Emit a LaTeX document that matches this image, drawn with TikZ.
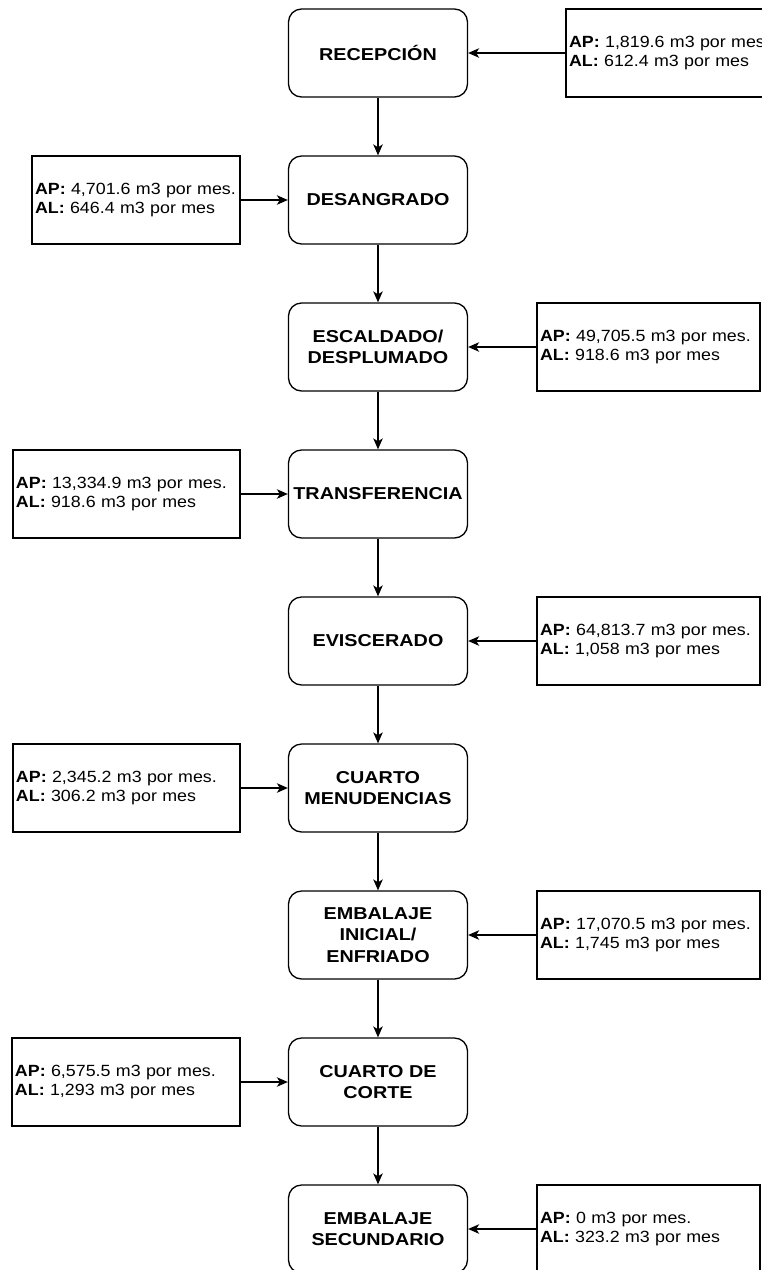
\documentclass[tikz,border=0pt]{standalone}
\usepackage{fontspec}
\setmainfont{Liberation Sans}[FakeStretch=1.1]
\newfontfamily\lblfont{Liberation Sans}[FakeStretch=1.15]
\usetikzlibrary{arrows.meta}
\tikzset{
  proc/.style={draw, rounded corners=13pt, minimum width=179pt, minimum height=88pt,
    align=center, inner sep=1pt, font=\lblfont\bfseries\fontsize{17.2}{21.5}\selectfont},
  info/.style={draw, minimum height=88pt, align=left, inner xsep=3pt, inner ysep=2pt,
    font=\fontsize{16.2}{19.5}\selectfont},
  arr/.style={-{Stealth[length=11pt,width=9.5pt,inset=3pt]}}
}
\begin{document}
\begin{tikzpicture}[x=1pt,y=-1pt,line width=1.3pt]
\clip (0,0) rectangle (762,1270);
\useasboundingbox (0,0) rectangle (762,1270);
% main process boxes
\node[proc] (p1) at (378,53)   {RECEPCIÓN};
\node[proc] (p2) at (378,200)  {DESANGRADO};
\node[proc] (p3) at (378,347)  {ESCALDADO/\\DESPLUMADO};
\node[proc] (p4) at (378,494)  {TRANSFERENCIA};
\node[proc] (p5) at (378,641)  {EVISCERADO};
\node[proc] (p6) at (378,788)  {CUARTO\\MENUDENCIAS};
\node[proc] (p7) at (378,935)  {EMBALAJE\\INICIAL/\\ENFRIADO};
\node[proc] (p8) at (378,1082) {CUARTO DE\\CORTE};
\node[proc] (p9) at (378,1229) {EMBALAJE\\SECUNDARIO};
% info boxes
\node[info, text width=217pt] (i1) at (677.5,53) {\textbf{AP:} 1,819.6 m3 por mes\\\textbf{AL:} 612.4 m3 por mes};
\node[info, text width=202pt] (i2) at (136,200) {\textbf{AP:} 4,701.6 m3 por mes.\\\textbf{AL:} 646.4 m3 por mes};
\node[info, text width=217pt] (i3) at (648.5,347) {\textbf{AP:} 49,705.5 m3 por mes.\\\textbf{AL:} 918.6 m3 por mes};
\node[info, text width=221pt] (i4) at (126.5,494) {\textbf{AP:} 13,334.9 m3 por mes.\\\textbf{AL:} 918.6 m3 por mes};
\node[info, text width=217pt] (i5) at (648.5,641) {\textbf{AP:} 64,813.7 m3 por mes.\\\textbf{AL:} 1,058 m3 por mes};
\node[info, text width=221pt] (i6) at (126.5,788) {\textbf{AP:} 2,345.2 m3 por mes.\\\textbf{AL:} 306.2 m3 por mes};
\node[info, text width=217pt] (i7) at (648.5,935) {\textbf{AP:} 17,070.5 m3 por mes.\\\textbf{AL:} 1,745 m3 por mes};
\node[info, text width=222pt] (i8) at (126,1082) {\textbf{AP:} 6,575.5 m3 por mes.\\\textbf{AL:} 1,293 m3 por mes};
\node[info, text width=217pt] (i9) at (648.5,1229) {\textbf{AP:} 0 m3 por mes.\\\textbf{AL:} 323.2 m3 por mes};
% vertical flow
\foreach \a/\b in {p1/p2,p2/p3,p3/p4,p4/p5,p5/p6,p6/p7,p7/p8,p8/p9}
  \draw[arr] (\a.south) -- (\b.north);
% horizontal inputs
\foreach \i/\p in {i1/p1,i2/p2,i3/p3,i4/p4,i5/p5,i6/p6,i7/p7,i8/p8,i9/p9}
  \draw[arr] (\i) -- (\p);
\end{tikzpicture}
\end{document}
